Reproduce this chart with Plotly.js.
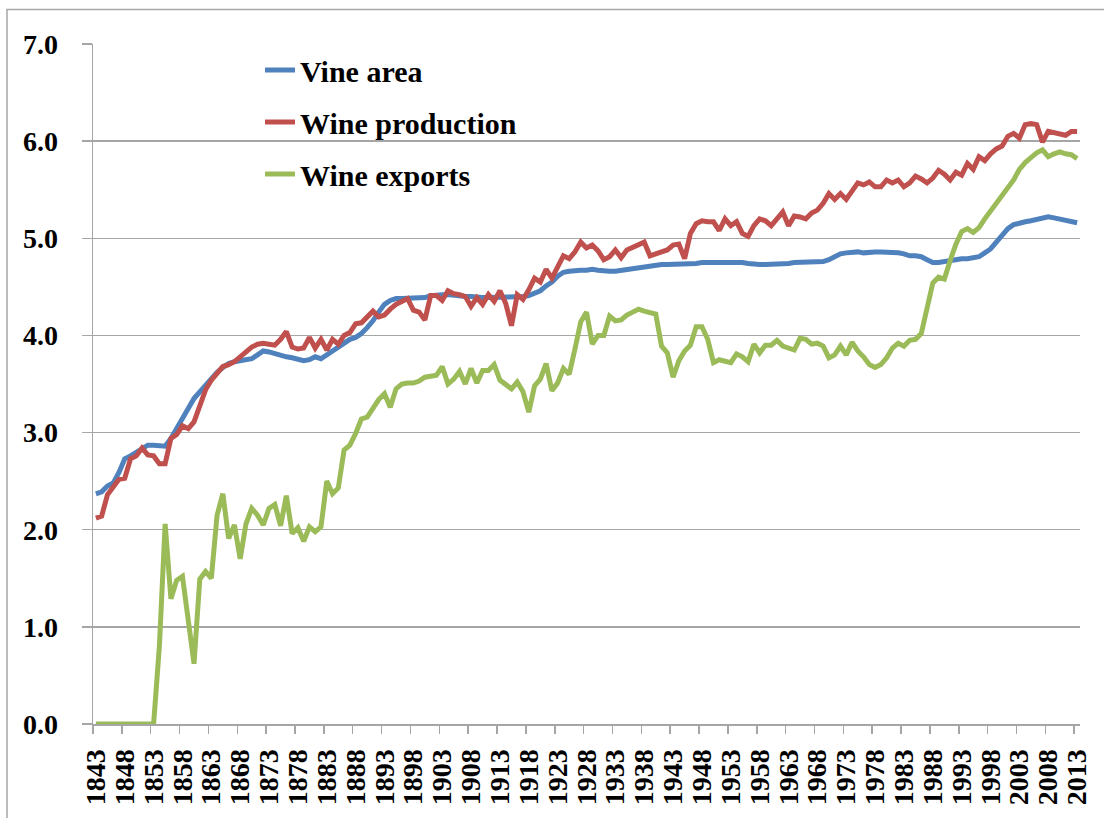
<!DOCTYPE html>
<html>
<head>
<meta charset="utf-8">
<script src="https://cdn.plot.ly/plotly-3.0.1.min.js"></script>
<style>
  html, body { margin: 0; padding: 0; background: #ffffff; }
  #chart { width: 1104px; height: 818px; }
</style>
</head>
<body>
<div id="chart"></div>
<script>
// Years 1843..2013 (one category per year)
var firstYear = 1843;
var lastYear = 2013;
var years = [];
for (var yr = firstYear; yr <= lastYear; yr++) years.push(yr);

// Tick labels shown on the x axis
var tickYears = [1843, 1848, 1853, 1858, 1863, 1868, 1873, 1878, 1883, 1888, 1893, 1898,
  1903, 1908, 1913, 1918, 1923, 1928, 1933, 1938, 1943, 1948, 1953, 1958, 1963, 1968,
  1973, 1978, 1983, 1988, 1993, 1998, 2003, 2008, 2013];

// Series names
var seriesNames = ["Vine area", "Wine production", "Wine exports"];

// Vine area (1843..2013)
var vineArea = [
  2.37, 2.39, 2.45, 2.48, 2.59, 2.73, 2.76, 2.80, 2.84, 2.87, 2.87, 2.87, 2.86, 2.94, 3.04, 3.15, 3.25, 3.35, 3.42, 3.49, 3.56,
  3.62, 3.67, 3.71, 3.73, 3.74, 3.75, 3.76, 3.80, 3.84, 3.83,
  3.81, 3.80, 3.78, 3.77, 3.75, 3.74, 3.75, 3.78, 3.76, 3.80,
  3.85, 3.89, 3.92, 3.96, 3.98, 4.02, 4.08, 4.15, 4.24, 4.32,
  4.36, 4.38, 4.38, 4.38, 4.38, 4.39, 4.39, 4.41, 4.42, 4.42,
  4.42, 4.41, 4.40, 4.40, 4.40, 4.39, 4.39, 4.39, 4.39, 4.39,
  4.39, 4.39, 4.39, 4.40, 4.41, 4.43, 4.46, 4.51, 4.55, 4.61,
  4.65, 4.66, 4.67, 4.67, 4.67, 4.68, 4.67, 4.66, 4.66, 4.66,
  4.67, 4.68, 4.69, 4.70, 4.70, 4.72, 4.73, 4.73, 4.73, 4.73,
  4.73, 4.73, 4.74, 4.74, 4.75, 4.75, 4.75, 4.76, 4.76, 4.76,
  4.76, 4.75, 4.74, 4.73, 4.73, 4.73, 4.73, 4.73, 4.74, 4.74,
  4.75, 4.75, 4.76, 4.76, 4.75, 4.76, 4.78, 4.81, 4.84, 4.85,
  4.86, 4.86, 4.85, 4.86, 4.86, 4.86, 4.86, 4.85, 4.85, 4.84,
  4.82, 4.82, 4.81, 4.78, 4.75, 4.75, 4.76, 4.78, 4.79, 4.79,
  4.79, 4.80, 4.81, 4.85, 4.89, 4.96, 5.03, 5.10, 5.14, 5.16,
  5.17, 5.18, 5.19, 5.21, 5.22, 5.21, 5.20, 5.19, 5.17, 5.16
];

// Wine production (1843..2013)
var wineProduction = [
  2.12, 2.14, 2.36, 2.44, 2.52, 2.53, 2.73, 2.76, 2.84, 2.77, 2.76, 2.68, 2.68, 2.94, 2.98, 3.07, 3.04, 3.11, 3.27, 3.44, 3.54,
  3.62, 3.68, 3.70, 3.73, 3.78, 3.83, 3.88, 3.91, 3.92, 3.91,
  3.90, 3.96, 4.04, 3.88, 3.86, 3.87, 3.98, 3.87, 3.96, 3.85,
  3.96, 3.91, 4.00, 4.03, 4.12, 4.13, 4.19, 4.25, 4.19, 4.21,
  4.27, 4.32, 4.35, 4.38, 4.26, 4.24, 4.16, 4.41, 4.41, 4.36,
  4.46, 4.43, 4.42, 4.40, 4.30, 4.39, 4.32, 4.42, 4.35, 4.46,
  4.33, 4.10, 4.42, 4.37, 4.47, 4.59, 4.55, 4.68, 4.59, 4.72,
  4.82, 4.79, 4.86, 4.96, 4.90, 4.93, 4.87, 4.78, 4.81, 4.88,
  4.80, 4.88, 4.91, 4.94, 4.96, 4.82, 4.84, 4.85, 4.88, 4.93,
  4.94, 4.79, 5.05, 5.15, 5.18, 5.17, 5.17, 5.08, 5.20, 5.13,
  5.17, 5.05, 5.02, 5.13, 5.20, 5.18, 5.13, 5.20, 5.27, 5.13,
  5.23, 5.22, 5.20, 5.26, 5.29, 5.36, 5.46, 5.40, 5.46, 5.40,
  5.49, 5.57, 5.55, 5.58, 5.53, 5.53, 5.60, 5.57, 5.60, 5.53,
  5.57, 5.64, 5.61, 5.57, 5.62, 5.70, 5.66, 5.60, 5.68, 5.65,
  5.77, 5.71, 5.84, 5.80, 5.87, 5.92, 5.95, 6.05, 6.08, 6.03,
  6.17, 6.18, 6.17, 5.99, 6.10, 6.09, 6.07, 6.06, 6.10, 6.10
];

// Wine exports (1843..2013)
var wineExports = [
  0, 0, 0, 0, 0, 0, 0, 0, 0, 0, 0,
  0.80, 2.06, 1.29, 1.48, 1.52, 1.08, 0.62, 1.49, 1.57, 1.50,
  2.15, 2.37, 1.91, 2.05, 1.70, 2.06, 2.22, 2.15, 2.05, 2.22,
  2.26, 2.04, 2.35, 1.96, 2.02, 1.88, 2.03, 1.98, 2.03, 2.50,
  2.37, 2.43, 2.82, 2.87, 2.99, 3.14, 3.16, 3.25, 3.34, 3.40,
  3.26, 3.45, 3.50, 3.51, 3.51, 3.53, 3.57, 3.58, 3.59, 3.68,
  3.50, 3.55, 3.63, 3.50, 3.66, 3.51, 3.64, 3.64, 3.70, 3.54,
  3.49, 3.45, 3.52, 3.42, 3.21, 3.48, 3.55, 3.71, 3.43, 3.51,
  3.66, 3.60, 3.86, 4.14, 4.24, 3.91, 4.00, 4.00, 4.20, 4.15,
  4.16, 4.21, 4.24, 4.27, 4.25, 4.23, 4.22, 3.89, 3.82, 3.57,
  3.74, 3.84, 3.90, 4.09, 4.09, 3.96, 3.72, 3.75, 3.73, 3.72,
  3.81, 3.78, 3.73, 3.91, 3.82, 3.90, 3.90, 3.95, 3.89, 3.87,
  3.85, 3.97, 3.96, 3.91, 3.92, 3.89, 3.77, 3.80, 3.89, 3.80,
  3.93, 3.84, 3.78, 3.70, 3.67, 3.70, 3.77, 3.87, 3.92, 3.89,
  3.95, 3.96, 4.02, 4.28, 4.54, 4.60, 4.58, 4.77, 4.94, 5.07,
  5.10, 5.06, 5.11, 5.20, 5.28, 5.34, 5.43, 5.50, 5.60, 5.71,
  5.78, 5.83, 5.88, 5.91, 5.84, 5.87, 5.89, 5.87, 5.86, 5.82
];

var seriesValues = [vineArea, wineProduction, wineExports];
var seriesColors = ["#4F81BD", "#C0504D", "#9BBB59"];

// Tick marks sit on the boundaries between year categories
var boundaryTicks = tickYears.map(function (t) { return t - 0.5; });

var serif = "Liberation Serif";
var gray = "#a6a6a6";

var traces = seriesValues.map(function (vals, k) {
  return {
    type: "scatter",
    mode: "lines",
    name: seriesNames[k],
    legendgroup: "g" + k,
    x: years,
    y: vals,
    line: { color: seriesColors[k], width: 5 },
    hoverinfo: "x+y"
  };
});

// invisible carrier trace for the boundary-tick axis
traces.push({
  type: "scatter", mode: "lines", x: [firstYear, lastYear], y: [null, null],
  xaxis: "x2", yaxis: "y", showlegend: false, hoverinfo: "skip"
});

var W = 1104, H = 818;
var L = 93, R = 24, T = 44, B = 93.5;
var pw = W - L - R, ph = H - T - B;
function px2paperX(px) { return (px - L) / pw; }
function px2paperY(py) { return (H - B - py) / ph; }

var layout = {
  width: W,
  height: H,
  margin: { l: L, r: R, t: T, b: B, pad: 0 },
  paper_bgcolor: "#ffffff",
  plot_bgcolor: "#ffffff",
  font: { family: serif, color: "#000000" },
  showlegend: true,
  legend: {
    x: px2paperX(260),
    y: px2paperY(44),
    xanchor: "left",
    yanchor: "top",
    bgcolor: "rgba(0,0,0,0)",
    font: { family: serif, size: 30, color: "#000000", weight: "bold" },
    tracegroupgap: 10,
    itemwidth: 30
  },
  xaxis: {
    type: "linear",
    range: [firstYear - 0.5, lastYear + 0.5],
    tickmode: "array",
    tickvals: tickYears,
    ticktext: tickYears.map(String),
    tickangle: -90,
    ticks: "",
    ticklabelstandoff: 12,
    tickfont: { family: serif, size: 28, color: "#000000", weight: "bold" },
    showgrid: false,
    zeroline: false,
    showline: true,
    linecolor: gray,
    linewidth: 2,
    fixedrange: true
  },
  xaxis2: {
    type: "linear",
    overlaying: "x",
    anchor: "y",
    side: "bottom",
    range: [firstYear - 0.5, lastYear + 0.5],
    tickmode: "array",
    tickvals: boundaryTicks,
    ticks: "outside",
    ticklen: 9,
    tickwidth: 1.5,
    tickcolor: gray,
    showticklabels: false,
    showgrid: false,
    zeroline: false,
    showline: false,
    fixedrange: true
  },
  yaxis: {
    range: [0, 7],
    tickmode: "linear",
    tick0: 0,
    dtick: 1,
    tickformat: ".1f",
    ticks: "outside",
    ticklen: 10,
    tickwidth: 1.5,
    tickcolor: gray,
    ticklabelstandoff: 18,
    tickfont: { family: serif, size: 28, color: "#000000", weight: "bold" },
    showgrid: true,
    gridcolor: gray,
    gridwidth: 1.5,
    zeroline: false,
    showline: true,
    linecolor: gray,
    linewidth: 1.5,
    fixedrange: true
  },
  shapes: [{
    type: "rect",
    xref: "paper", yref: "paper",
    x0: px2paperX(7), x1: px2paperX(1115),
    y0: px2paperY(840), y1: px2paperY(9.5),
    line: { color: gray, width: 1.5 },
    fillcolor: "rgba(0,0,0,0)",
    layer: "below"
  }]
};

Plotly.newPlot("chart", traces, layout, { displayModeBar: false, staticPlot: true });
</script>
</body>
</html>
